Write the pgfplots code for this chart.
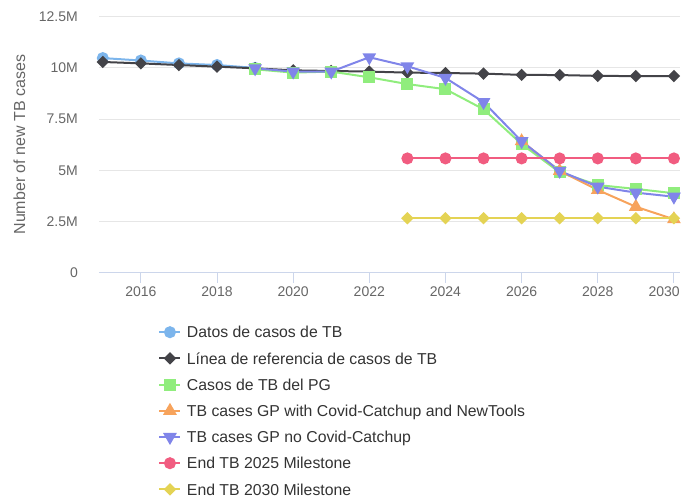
\documentclass[border=0pt]{standalone}
\usepackage{pgfplots}
\pgfplotsset{compat=1.18}
\usepackage{fontspec}
\setmainfont{Liberation Sans}

\definecolor{cA}{HTML}{7CB5EC}
\definecolor{cB}{HTML}{434348}
\definecolor{cC}{HTML}{90ED7D}
\definecolor{cD}{HTML}{F7A35C}
\definecolor{cE}{HTML}{8085E9}
\definecolor{cF}{HTML}{F15C80}
\definecolor{cG}{HTML}{E4D354}
\definecolor{gridc}{HTML}{E6E6E6}
\definecolor{axisc}{HTML}{CCD6EB}
\definecolor{labelc}{HTML}{666666}
\definecolor{legc}{HTML}{333333}

\begin{document}
\begin{tikzpicture}
\useasboundingbox (0,0) rectangle (681pt,499pt);
\begin{axis}[
    at={(99pt,226.3pt)}, anchor=south west,
    scale only axis,
    width=581pt, height=256pt,
    xmin=2014.9, xmax=2030.16,
    ymin=0, ymax=12.5,
    clip=false,
    axis x line*=bottom, axis y line*=left,
    x axis line style={draw=axisc, line width=1pt, -},
    y axis line style={draw=none},
    xtick={2016,2018,...,2028},
    xticklabels={2016,2018,2020,2022,2024,2026,2028},
    extra x ticks={2030},
    extra x tick labels={2030},
    extra x tick style={xticklabel style={anchor=north east, xshift=6pt}},
    ytick={0,2.5,5,7.5,10,12.5},
    yticklabels={0,2.5M,5M,7.5M,10M,12.5M},
    tick align=outside,
    major tick length=10pt,
    xtick style={draw=axisc, line width=1pt},
    ytick style={draw=none},
    ymajorgrids,
    grid style={draw=gridc, line width=1pt},
    tick label style={font=\fontsize{14}{16}\selectfont, text=labelc, inner sep=0pt},
    xticklabel style={anchor=north, yshift=-3.5pt},
    yticklabel style={anchor=east, xshift=-11pt},
    ylabel={Number of new TB cases},
    every axis y label/.style={at={(axis description cs:-0.137,0.5)}, rotate=90, anchor=center,
        font=\fontsize{16}{18}\selectfont, text=labelc},
    legend cell align=left,
    legend style={
        at={(axis description cs:0.102,-0.207)}, anchor=north west,
        draw=none, fill=none, inner sep=0pt,
        font=\fontsize{15.8}{18}\selectfont, text=legc,
        row sep=13.6pt, column sep=0pt,
        nodes={inner sep=0pt, text height=12pt, text depth=0.6pt},
    },
    legend image code/.code={
        \path[draw=none, fill=none] (0pt,-6.3pt) rectangle (27.5pt,6.3pt);
        \draw[mark repeat=2, mark phase=2, #1] plot coordinates {(0pt,0pt) (10.5pt,0pt) (21pt,0pt)};
    },
    every axis plot/.append style={line width=2pt},
]
% Datos de casos de TB
\addplot[cA, mark=*, mark size=5pt, mark options={draw=none, fill=cA}] coordinates {
    (2015,10.48) (2016,10.36) (2017,10.22) (2018,10.14) (2019,10.00)
};
% Linea de referencia
\addplot[cB, mark=square*, mark size=3.4pt, mark options={rotate=45, draw=none, fill=cB}] coordinates {
    (2015,10.29) (2016,10.22) (2017,10.14) (2018,10.06) (2019,9.98)
    (2020,9.88) (2021,9.85) (2022,9.82) (2023,9.77) (2024,9.75)
    (2025,9.72) (2026,9.66) (2027,9.65) (2028,9.61) (2029,9.60) (2030,9.60)
};
% Casos de TB del PG
\addplot[cC, mark=square*, mark size=5pt, mark options={draw=none, fill=cC}] coordinates {
    (2019,9.93) (2020,9.77) (2021,9.82) (2022,9.54) (2023,9.21) (2024,8.96)
    (2025,7.98) (2026,6.28) (2027,4.90) (2028,4.28) (2029,4.09) (2030,3.88)
};
% GP with Covid-Catchup and NewTools
\addplot[cD, mark=triangle*, mark size=6pt, mark options={draw=none, fill=cD}] coordinates {
    (2026,6.42) (2027,4.97) (2028,4.04) (2029,3.22) (2030,2.61)
};
% GP no Covid-Catchup
\addplot[cE, mark=triangle*, mark size=6pt, mark options={rotate=180, draw=none, fill=cE}] coordinates {
    (2019,9.98) (2020,9.82) (2021,9.82) (2022,10.52) (2023,10.08) (2024,9.51)
    (2025,8.33) (2026,6.42) (2027,4.97) (2028,4.20) (2029,3.91) (2030,3.71)
};
% End TB 2025
\addplot[cF, mark=*, mark size=5pt, mark options={draw=none, fill=cF}] coordinates {
    (2023,5.58) (2024,5.58) (2025,5.58) (2026,5.58) (2027,5.58) (2028,5.58) (2029,5.58) (2030,5.58)
};
% End TB 2030
\addplot[cG, mark=square*, mark size=3.4pt, mark options={rotate=45, draw=none, fill=cG}] coordinates {
    (2023,2.66) (2024,2.66) (2025,2.66) (2026,2.66) (2027,2.66) (2028,2.66) (2029,2.66) (2030,2.66)
};
\legend{Datos de casos de TB, Línea de referencia de casos de TB, Casos de TB del PG,
    TB cases GP with Covid-Catchup and NewTools, TB cases GP no Covid-Catchup,
    End TB 2025 Milestone, End TB 2030 Milestone}
\end{axis}
\end{tikzpicture}
\end{document}
